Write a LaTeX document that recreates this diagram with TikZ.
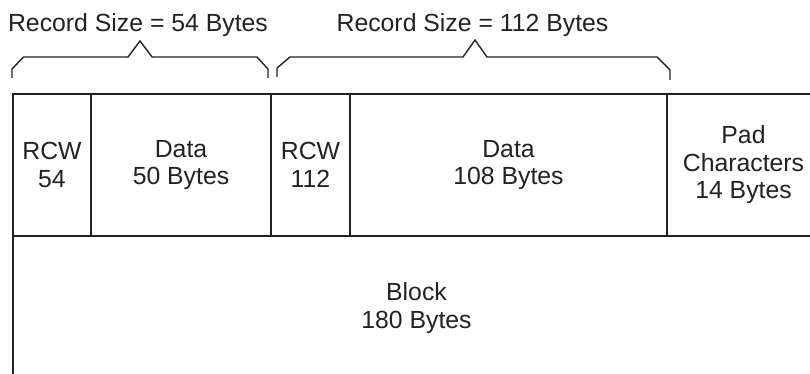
\documentclass[tikz,border=0pt]{standalone}
\usepackage{fontspec}
\setmainfont{Liberation Sans}
\definecolor{ink}{HTML}{222222}
\tikzset{every node/.style={font=\fontsize{24.8}{27.5}\selectfont,text=ink,inner sep=0pt,outer sep=0pt},
cell/.style={draw=ink,line width=1.8pt,rectangle,minimum height=142pt,align=center},
brace/.style={draw=ink,line width=1.4pt,line join=miter}}

\begin{document}
\begin{tikzpicture}[x=1pt,y=-1pt]
\path[use as bounding box] (0,0) rectangle (810,374);
\clip (0,0) rectangle (810,374);
\node[anchor=base] (size1) at (138,32) {Record Size = 54 Bytes};
\node[anchor=base] (size2) at (472.5,32) {Record Size = 112 Bytes};
\path[brace] (12,78) -- (12,69) -- (23.5,57) -- (128,57) -- (140,41) -- (152,57) -- (257,57) -- (268,69) -- (268,78);
\path[brace] (277,77) -- (277,68) -- (290,57) -- (463,57) -- (475,40) -- (487,57) -- (657,57) -- (670,70) -- (670,80);
\node[cell,minimum width=78pt] (rcw1) at (52,165) {RCW\\54};
\node[cell,minimum width=180pt] (data1) at (181,165) {Data\\50 Bytes};
\node[cell,minimum width=79pt] (rcw2) at (310.5,165) {RCW\\112};
\node[cell,minimum width=317pt] (data2) at (508.5,165) {Data\\108 Bytes};
\node[cell,minimum width=153pt] (pad) at (743.5,165) {Pad\\Characters\\14 Bytes};
\node[cell,minimum width=807pt,minimum height=144pt] (block) at (416.5,308) {Block\\180 Bytes};
\end{tikzpicture}
\end{document}
